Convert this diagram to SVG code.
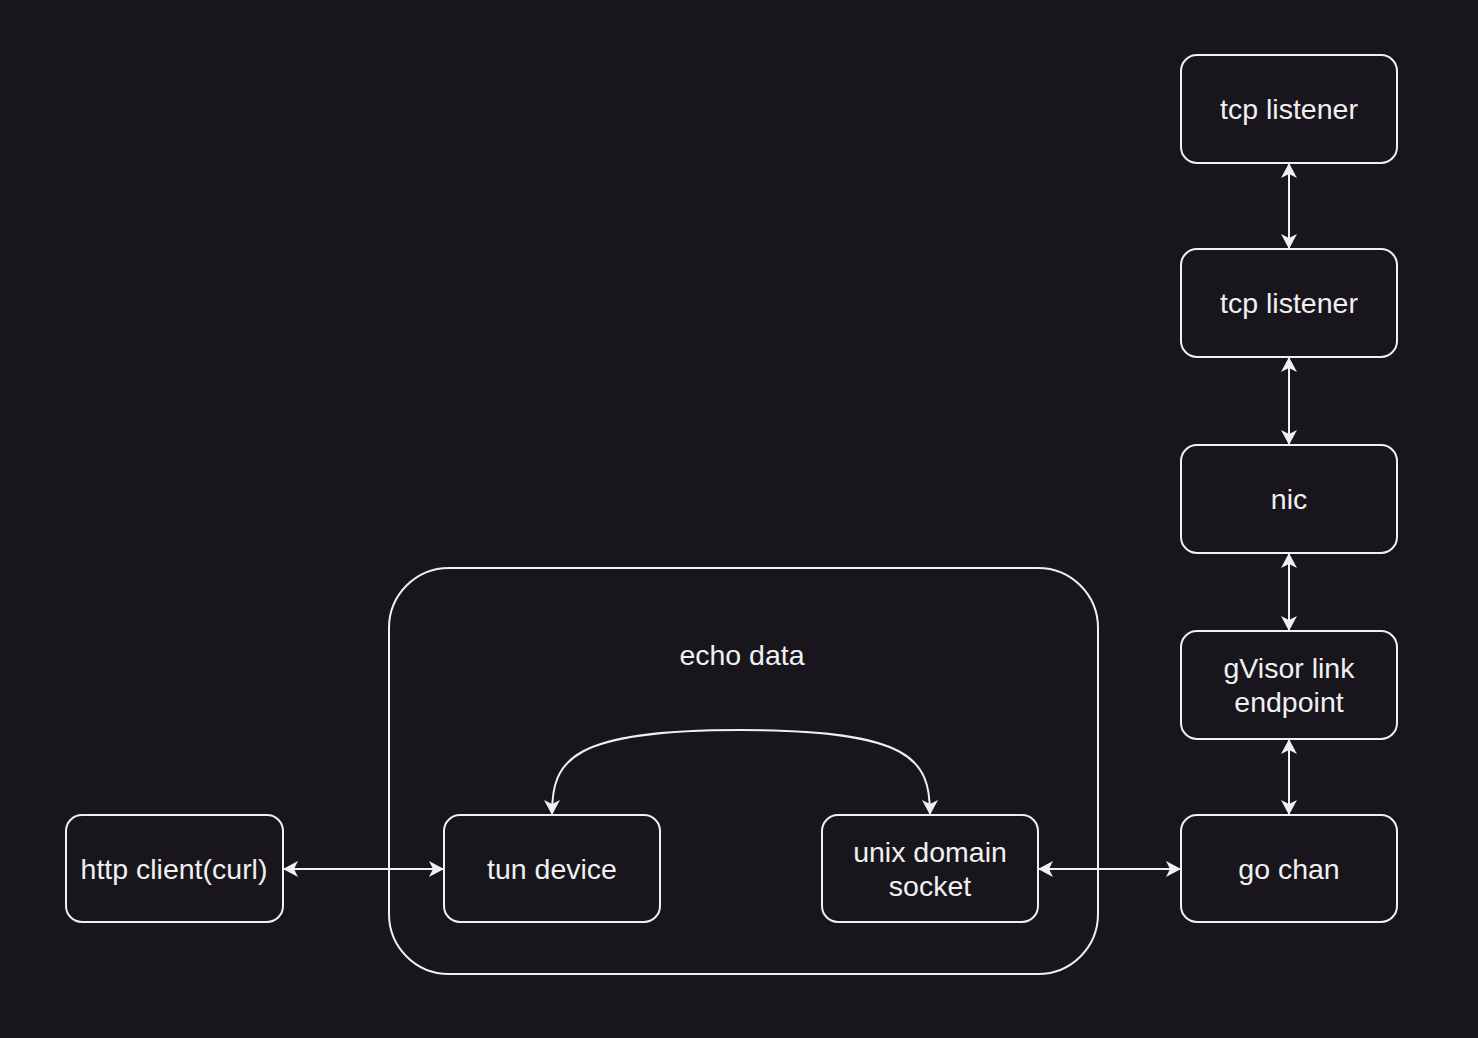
<svg xmlns="http://www.w3.org/2000/svg" width="1478" height="1038" viewBox="0 0 1478 1038">
<style>
.box{fill:none;stroke:#f0f0f0;stroke-width:2}
.lbl{fill:#f0f0f0;font-family:"Liberation Sans",Arial,sans-serif;font-size:28.5px;text-anchor:middle;dominant-baseline:central}
.edge{fill:none;stroke:#f0f0f0;stroke-width:2}
</style>
<defs>
<marker id="arr" viewBox="0 0 15 16" refX="14" refY="8" markerWidth="15" markerHeight="16" markerUnits="userSpaceOnUse" orient="auto-start-reverse">
<path d="M0,0 L15,8 L0,16 L4,8 Z" fill="#f0f0f0"/>
</marker>
</defs>
<rect width="1478" height="1038" fill="#18161c"/>
<g id="container">
<rect class="box" x="389" y="568" width="709" height="406" rx="60"/>
<text class="lbl" x="742" y="655">echo data</text>
</g>
<g id="tcp1"><rect class="box" x="1181" y="55" width="216" height="108" rx="16"/><text class="lbl" x="1289" y="109">tcp listener</text></g>
<g id="tcp2"><rect class="box" x="1181" y="249" width="216" height="108" rx="16"/><text class="lbl" x="1289" y="303">tcp listener</text></g>
<g id="nic"><rect class="box" x="1181" y="445" width="216" height="108" rx="16"/><text class="lbl" x="1289" y="499">nic</text></g>
<g id="gvisor"><rect class="box" x="1181" y="631" width="216" height="108" rx="16"/><text class="lbl" x="1289" y="668">gVisor link</text><text class="lbl" x="1289" y="702">endpoint</text></g>
<g id="gochan"><rect class="box" x="1181" y="815" width="216" height="107" rx="16"/><text class="lbl" x="1289" y="869">go chan</text></g>
<g id="http"><rect class="box" x="66" y="815" width="217" height="107" rx="16"/><text class="lbl" x="174" y="869">http client(curl)</text></g>
<g id="tun"><rect class="box" x="444" y="815" width="216" height="107" rx="16"/><text class="lbl" x="552" y="869">tun device</text></g>
<g id="uds"><rect class="box" x="822" y="815" width="216" height="107" rx="16"/><text class="lbl" x="930" y="852">unix domain</text><text class="lbl" x="930" y="886">socket</text></g>
<g id="connectors">
<line class="edge" x1="1289" y1="164" x2="1289" y2="248" marker-start="url(#arr)" marker-end="url(#arr)"/>
<line class="edge" x1="1289" y1="358" x2="1289" y2="444" marker-start="url(#arr)" marker-end="url(#arr)"/>
<line class="edge" x1="1289" y1="554" x2="1289" y2="630" marker-start="url(#arr)" marker-end="url(#arr)"/>
<line class="edge" x1="1289" y1="740" x2="1289" y2="814" marker-start="url(#arr)" marker-end="url(#arr)"/>
<line class="edge" x1="284" y1="869" x2="443" y2="869" marker-start="url(#arr)" marker-end="url(#arr)"/>
<line class="edge" x1="1039" y1="869" x2="1180" y2="869" marker-start="url(#arr)" marker-end="url(#arr)"/>
<path class="edge" d="M552,814 C552,760 570,730 741,730 C912,730 930,760 930,814" marker-start="url(#arr)" marker-end="url(#arr)"/>
</g>
</svg>
